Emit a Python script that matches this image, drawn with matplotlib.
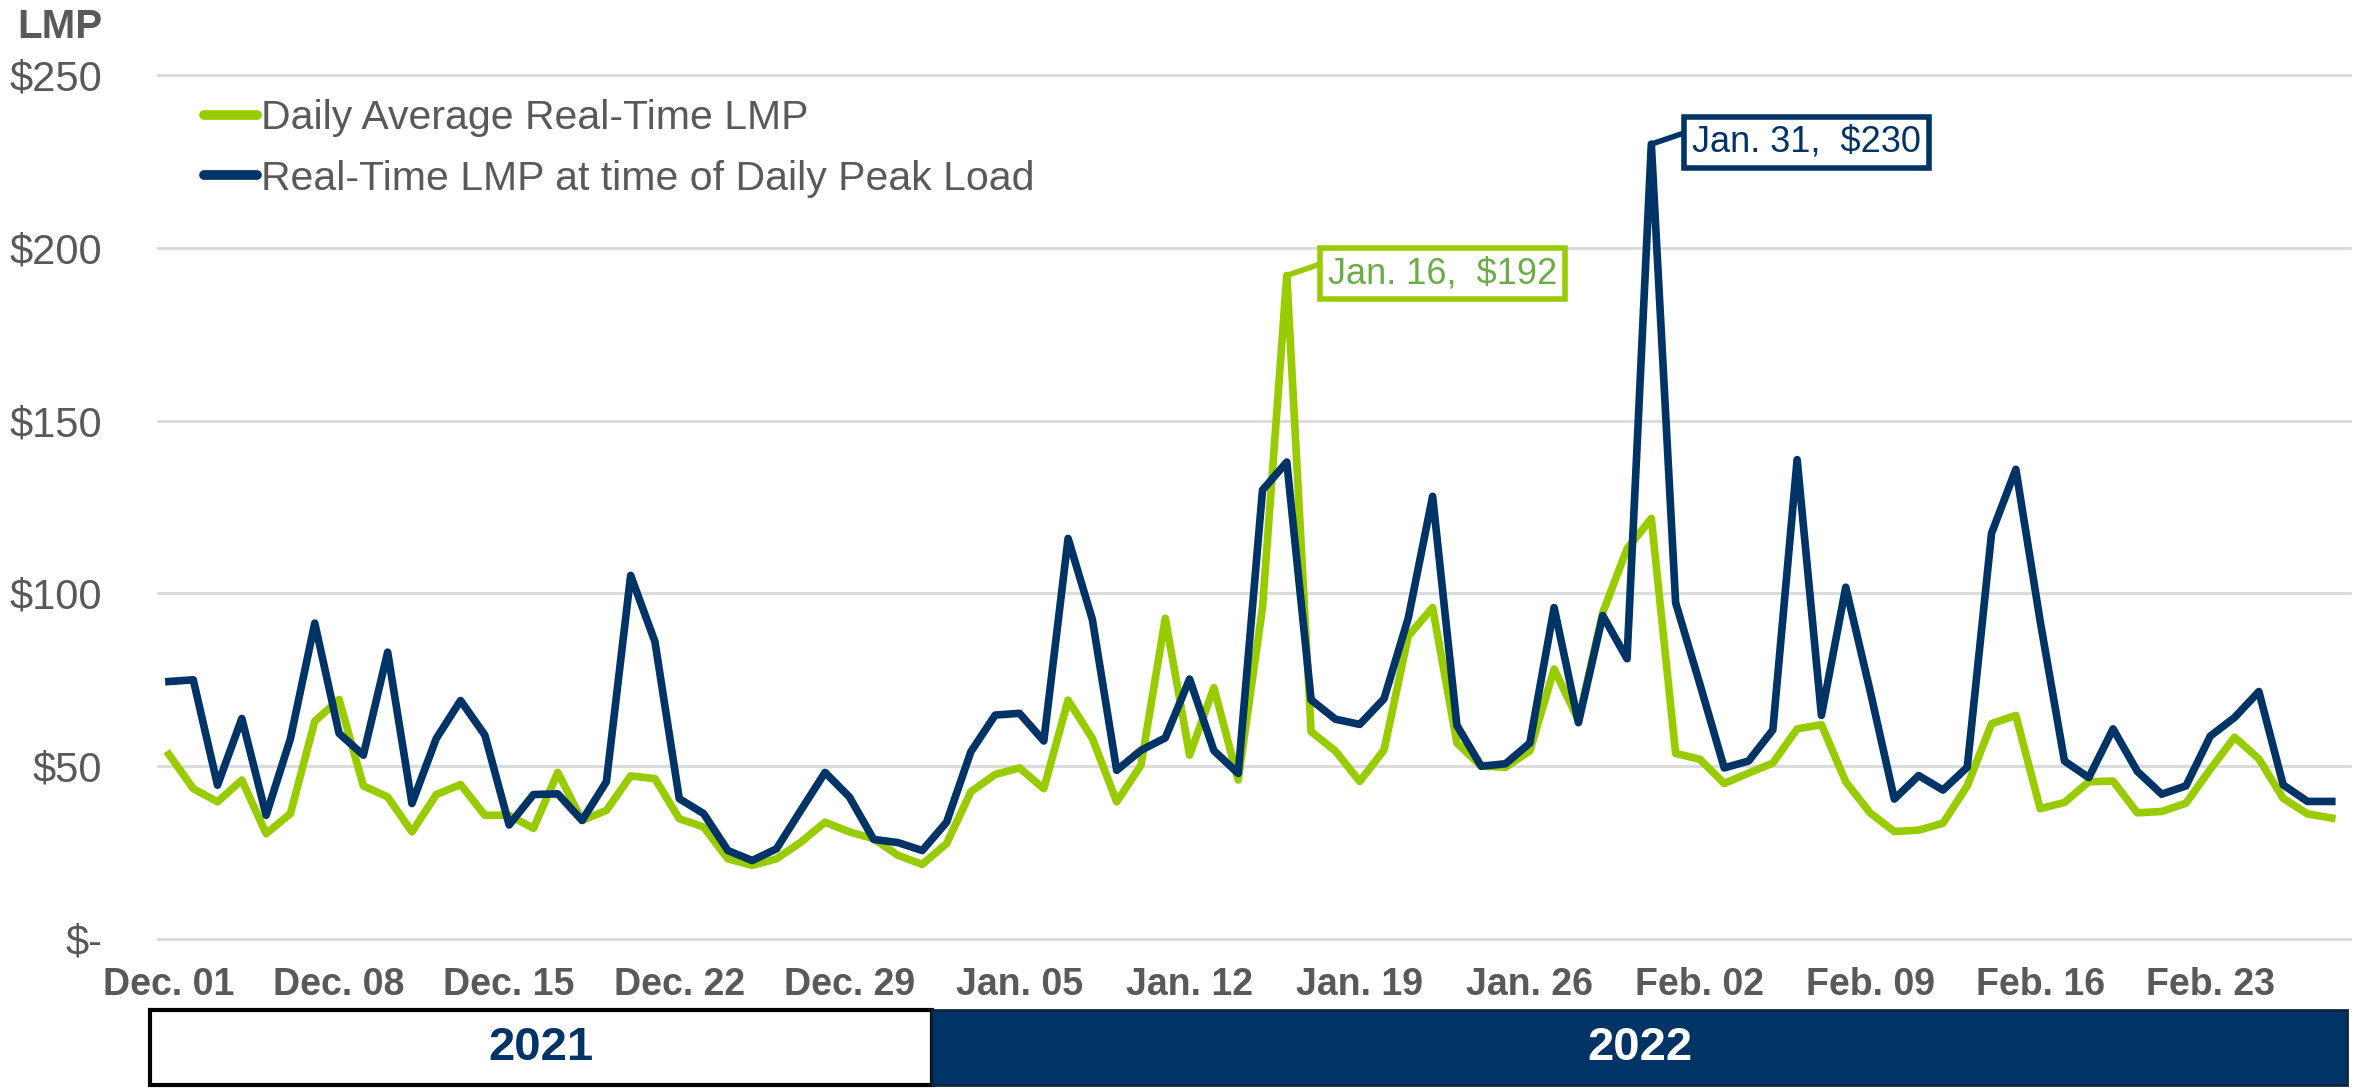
import matplotlib
matplotlib.use("Agg")
import matplotlib.pyplot as plt
from matplotlib import font_manager as fm
from matplotlib.patches import Rectangle
from matplotlib.lines import Line2D

names = {f.name for f in fm.fontManager.ttflist}
REG = 'Liberation Sans' if 'Liberation Sans' in names else 'DejaVu Sans'
NARROW = 'Liberation Sans Narrow' if 'Liberation Sans Narrow' in names else REG

# ---------------- data ----------------
tick_labels = ['Dec. 01', 'Dec. 08', 'Dec. 15', 'Dec. 22', 'Dec. 29', 'Jan. 05', 'Jan. 12',
               'Jan. 19', 'Jan. 26', 'Feb. 02', 'Feb. 09', 'Feb. 16', 'Feb. 23']
tick_days = [0, 7, 14, 21, 28, 35, 42, 49, 56, 63, 70, 77, 84]

daily_avg = [53.4, 43.5, 39.7, 46, 30.5, 36.3, 63, 69.3, 44.3, 41.1, 31, 41.8, 44.7, 35.8, 35.8, 32,
             48.2, 34.3, 37.2, 47.2, 46.4, 34.8,
             32.4, 23.2, 21.3, 23.2, 28, 33.8, 31, 29, 24.2, 21.6, 27.6, 42.6, 47.6, 49.5, 43.5,
             69.1, 58, 39.7, 50.3, 92.8, 53.2, 72.7, 46,
             95.9, 192, 60, 54.4, 45.6, 54.7, 87.7, 95.9, 56.7, 50, 49.7, 54.4, 78.1, 63.3, 94.4,
             112.9, 121.7, 53.7, 52, 45, 48,
             50.9, 60.8, 62, 45.5, 36.5, 31.1, 31.5, 33.5, 44.3, 62.3, 64.7, 37.7, 39.5, 45.5,
             45.7, 36.5, 36.9, 39.3, 49.1, 58.4, 52.1, 40.7, 36.2, 35]

peak_load = [74.5, 75, 44.5, 63.8, 35.8, 58, 91.4, 59.5, 53.2, 83, 39.2, 58, 69, 59, 33, 41.8, 42,
             34.3, 45.5, 105.2, 86, 40.6,
             36.3, 25.6, 22.7, 26.1, 37.2, 48.2, 41.1, 28.8, 27.9, 25.6, 33.8, 54.2, 64.8, 65.3,
             57.3, 115.9, 92.4, 48.8, 54.6, 58.2, 75.2, 54.5, 47.9,
             129.9, 138, 69.2, 63.6, 62.1, 69.5, 92.9, 128.1, 61.8, 50, 50.7, 56.7, 95.9, 62.6,
             93.6, 81.1, 230, 97.3, 73.7, 49.5, 51.5,
             60.5, 138.7, 64.7, 101.8, 71.9, 40.5, 47.3, 43.1, 49.7, 117.4, 135.9, 92, 51.5, 46.7,
             60.8, 48.5, 41.9, 44.3, 58.7, 64.1, 71.6, 44.6, 39.8, 39.8]

series_names = ['Daily Average Real-Time LMP', 'Real-Time LMP at time of Daily Peak Load']
y_ticks = [0, 50, 100, 150, 200, 250]
y_tick_labels = ['$-', '$50', '$100', '$150', '$200', '$250']
years = ['2021', '2022']
callouts = [('Jan. 16,  $192', 46, 192), ('Jan. 31,  $230', 61, 230)]

GREEN = '#99CC00'
NAVY = '#003366'
GRAY = '#595959'

W, H = 2357, 1088
fig = plt.figure(figsize=(W / 100, H / 100), dpi=100)
ax = fig.add_axes([158 / W, 149 / H, (2350 - 158) / W, (939 - 75) / H])

days = list(range(len(daily_avg)))
ax.plot(days, daily_avg, color=GREEN, lw=5.5, zorder=3)
ax.plot(days, peak_load, color=NAVY, lw=5.5, zorder=4)

ax.set_xlim(-0.45, 89.75)
ax.set_ylim(0, 250)
ax.set_yticks(y_ticks)
ax.set_yticklabels(y_tick_labels, family=REG, fontsize=30, color=GRAY)
ax.set_xticks(tick_days)
ax.set_xticklabels(tick_labels, family=NARROW, fontsize=27, fontweight='bold', color=GRAY)
ax.tick_params(axis='y', length=0, pad=40)
ax.tick_params(axis='x', length=0, pad=20)
ax.yaxis.grid(True, color='#D9D9D9', lw=2, clip_on=False)
ax.set_axisbelow(True)
for s in ax.spines.values():
    s.set_visible(False)

fig.text(60 / W, 1 - 27 / H, 'LMP', family=REG, fontsize=29, fontweight='bold',
         color=GRAY, ha='center', va='center')

handles = [Line2D([], [], color=GREEN, lw=7, solid_capstyle='round'),
           Line2D([], [], color=NAVY, lw=7, solid_capstyle='round')]
leg = ax.legend(handles, series_names, loc='upper left', bbox_to_anchor=(0.021, 0.972),
                frameon=False, prop={'family': REG, 'size': 29.5}, handlelength=1.3,
                handletextpad=0.1, labelspacing=0.55, borderpad=0, borderaxespad=0)
for t in leg.get_texts():
    t.set_color(GRAY)

# callouts
styles = [(GREEN, '#6AAD47', 6.4), (NAVY, NAVY, 6.4)]
for (txt, d, v), (ec, tc, dx) in zip(callouts, styles):
    ax.annotate(txt, xy=(d, v), xytext=(d + dx, v + 0.5), textcoords='data',
                ha='center', va='center', family=REG, fontsize=26, color=tc, zorder=6,
                bbox=dict(boxstyle='square,pad=0.22', fc='white', ec=ec, lw=4),
                arrowprops=dict(arrowstyle='-', color=ec, lw=4, shrinkA=0, shrinkB=0,
                                relpos=(0, 0.85)))

# year bars
fig.add_artist(Rectangle((150 / W, 3 / H), (932 - 150) / W, 75 / H, transform=fig.transFigure,
                         fc='white', ec='black', lw=3))
fig.add_artist(Rectangle((932 / W, 3 / H), (2347 - 932) / W, 75 / H, transform=fig.transFigure,
                         fc=NAVY, ec='#0B2545', lw=2))
fig.text((150 + 932) / 2 / W, 40.5 / H, years[0], family=NARROW, fontsize=34, fontweight='bold',
         color=NAVY, ha='center', va='center')
fig.text((932 + 2347) / 2 / W, 40.5 / H, years[1], family=NARROW, fontsize=34, fontweight='bold',
         color='white', ha='center', va='center')

fig.savefig('out.png', dpi=100)
